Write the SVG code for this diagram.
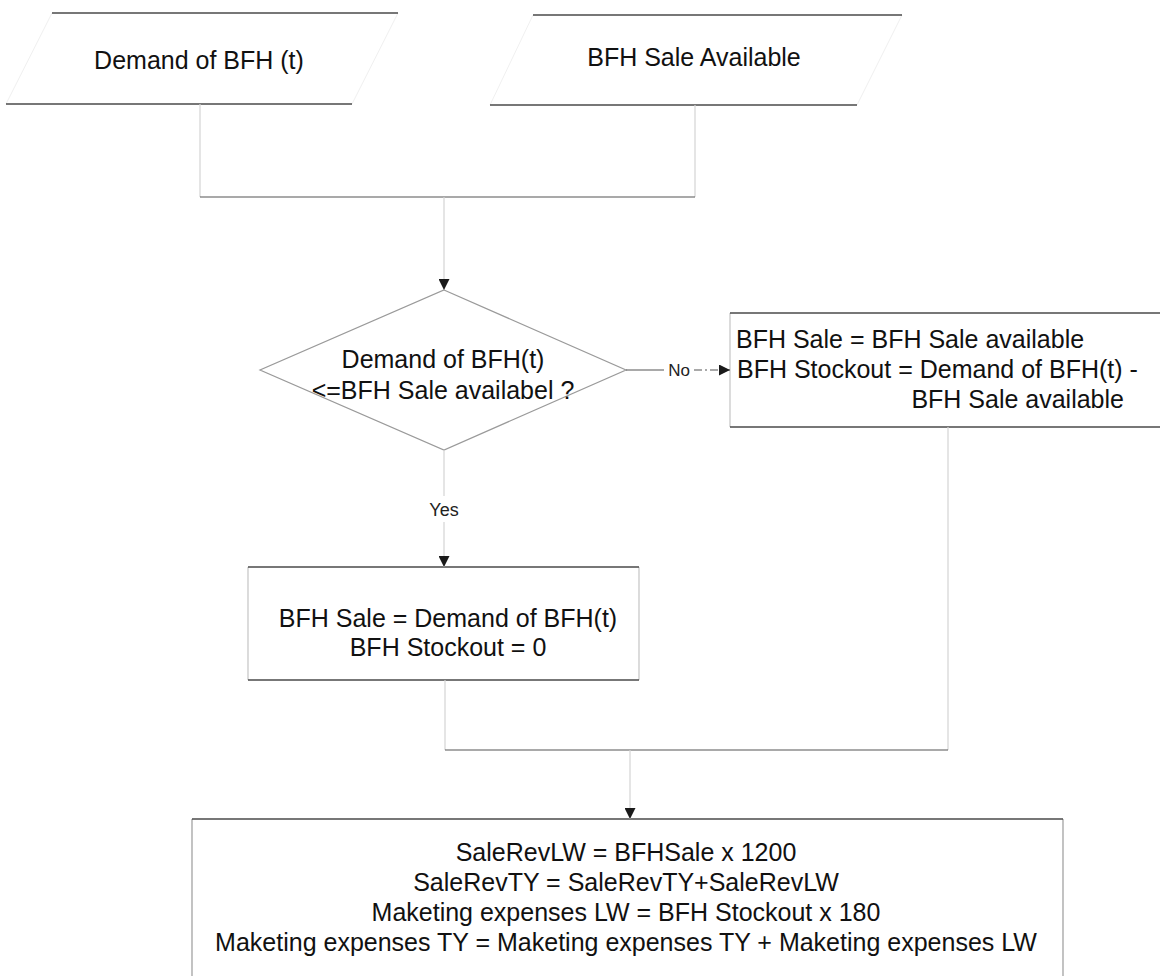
<svg xmlns="http://www.w3.org/2000/svg" width="1160" height="976" viewBox="0 0 1160 976">
  <style>
    .bg { fill: #ffffff; }
    .shape { fill: #ffffff; stroke: none; }
    .edge-dark { stroke: #4a4a4a; stroke-width: 1.3; fill: none; }
    .edge-mid { stroke: #9a9a9a; stroke-width: 1.2; fill: none; }
    .edge-light { stroke: #c4c4c4; stroke-width: 1.2; fill: none; }
    .edge-faint { stroke: #f0f0f0; stroke-width: 1; fill: none; }
    .wire { stroke: #555555; stroke-width: 1.2; fill: none; }
    .wire-light { stroke: #d4d4d4; stroke-width: 1.2; fill: none; }
    .label { font-family: "Liberation Sans", Arial, sans-serif; font-size: 25px; fill: #111111; }
    .small { font-family: "Liberation Sans", Arial, sans-serif; font-size: 17px; fill: #222222; }
    .mid { text-anchor: middle; }
    .end { text-anchor: end; }
  </style>
  <defs>
    <marker id="arrow" viewBox="0 0 12 12" refX="12" refY="6" markerWidth="12" markerHeight="11" markerUnits="userSpaceOnUse" orient="auto">
      <path d="M0,0 L12,6 L0,12 Z" fill="#1a1a1a"/>
    </marker>
  </defs>

  <rect class="bg" x="0" y="0" width="1160" height="976"/>

  <!-- input: demand -->
  <g id="demand-input">
    <polygon class="shape" points="52,13 398,13 352,104 6,104"/>
    <line class="edge-faint" x1="398" y1="13" x2="352" y2="104"/>
    <line class="edge-faint" x1="52" y1="13" x2="6" y2="104"/>
    <line class="edge-dark" x1="52" y1="13" x2="398" y2="13"/>
    <line class="edge-dark" x1="6" y1="104" x2="352" y2="104"/>
    <text class="label mid" x="199" y="69">Demand of BFH (t)</text>
  </g>

  <!-- input: sale available -->
  <g id="sale-available-input">
    <polygon class="shape" points="533,15 902,15 857,105 490,105"/>
    <line class="edge-faint" x1="533" y1="15" x2="490" y2="105"/>
    <line class="edge-faint" x1="902" y1="15" x2="857" y2="105"/>
    <line class="edge-dark" x1="533" y1="15" x2="902" y2="15"/>
    <line class="edge-dark" x1="490" y1="105" x2="857" y2="105"/>
    <text class="label mid" x="694" y="66">BFH Sale Available</text>
  </g>

  <!-- decision -->
  <g id="decision">
    <polygon class="shape edge-mid" points="444,290 626,370 444,450 260,370"/>
    <text class="label mid" x="443" y="368">Demand of BFH(t)</text>
    <text class="label mid" x="443" y="399">&lt;=BFH Sale availabel ?</text>
  </g>

  <!-- stockout branch -->
  <g id="stockout-box">
    <rect class="shape" x="730" y="313" width="450" height="114"/>
    <line class="edge-light" x1="730" y1="313" x2="730" y2="427"/>
    <line class="edge-dark" x1="730" y1="313" x2="1160" y2="313"/>
    <line class="edge-dark" x1="730" y1="427" x2="1160" y2="427"/>
    <text class="label" x="736" y="348">BFH Sale = BFH Sale available</text>
    <text class="label" x="737" y="378">BFH Stockout = Demand of BFH(t) -</text>
    <text class="label end" x="1124" y="408">BFH Sale available</text>
  </g>

  <!-- demand met branch -->
  <g id="demand-met-box">
    <rect class="shape" x="248" y="567" width="391" height="113"/>
    <line class="edge-light" x1="248" y1="567" x2="248" y2="680"/>
    <line class="edge-light" x1="639" y1="567" x2="639" y2="680"/>
    <line class="edge-dark" x1="248" y1="567" x2="639" y2="567"/>
    <line class="edge-dark" x1="248" y1="680" x2="639" y2="680"/>
    <text class="label mid" x="448" y="627">BFH Sale = Demand of BFH(t)</text>
    <text class="label mid" x="448" y="656">BFH Stockout = 0</text>
  </g>

  <!-- revenue and expense update -->
  <g id="totals-box">
    <rect class="shape" x="192" y="819" width="871" height="180"/>
    <line class="edge-mid" x1="192" y1="819" x2="192" y2="976"/>
    <line class="edge-mid" x1="1063" y1="819" x2="1063" y2="976"/>
    <line class="edge-dark" x1="192" y1="819" x2="1063" y2="819"/>
    <text class="label mid" x="626" y="861">SaleRevLW = BFHSale x 1200</text>
    <text class="label mid" x="626" y="891">SaleRevTY = SaleRevTY+SaleRevLW</text>
    <text class="label mid" x="626" y="921">Maketing expenses LW = BFH Stockout x 180</text>
    <text class="label mid" x="626" y="951">Maketing expenses TY = Maketing expenses TY + Maketing expenses LW</text>
  </g>

  <!-- connectors -->
  <g id="connectors">
    <polyline class="wire-light" points="200,104 200,197"/>
    <polyline class="wire-light" points="695,105 695,197"/>
    <line class="wire" x1="200" y1="197" x2="695" y2="197"/>
    <line class="wire-light" x1="444" y1="197" x2="444" y2="290" marker-end="url(#arrow)"/>

    <line class="wire" x1="626" y1="370" x2="664" y2="370"/>
    <line class="wire" x1="694" y1="370" x2="730" y2="370" stroke-dasharray="8,3,2,3" marker-end="url(#arrow)"/>
    <text class="small mid" x="679" y="376">No</text>

    <line class="wire-light" x1="444" y1="450" x2="444" y2="496"/>
    <line class="wire-light" x1="444" y1="522" x2="444" y2="567" marker-end="url(#arrow)"/>
    <text class="small mid" x="444" y="516" style="font-size:18px">Yes</text>

    <line class="wire-light" x1="445" y1="680" x2="445" y2="750"/>
    <line class="wire-light" x1="948" y1="427" x2="948" y2="750"/>
    <line class="wire" x1="445" y1="750" x2="948" y2="750"/>
    <line class="wire-light" x1="630" y1="750" x2="630" y2="819" marker-end="url(#arrow)"/>
  </g>
</svg>
